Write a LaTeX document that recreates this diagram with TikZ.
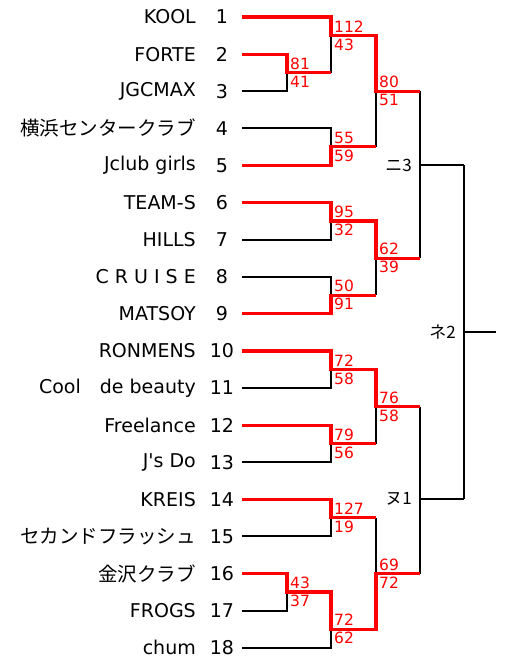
\documentclass[tikz,border=0pt]{standalone}
\usepackage{fontspec}
\setmainfont{DejaVu Sans}
\newfontfamily\jp{Noto Sans CJK JP}
\usetikzlibrary{positioning, calc}

\tikzset{
  win/.style={draw=red, line width=3.2pt},
  lose/.style={draw=black, line width=1.9pt},
  teamname/.style={anchor=east, inner sep=0pt, font=\fontsize{19}{22}\selectfont},
  seed/.style={inner sep=0pt, font=\fontsize{19}{22}\selectfont},
  score/.style={anchor=west, inner sep=0pt, text=red, font=\fontsize{15.5}{18}\selectfont},
  pool/.style={anchor=east, inner sep=0pt, font=\jp\fontsize{17}{18}\selectfont}
}

\begin{document}
\begin{tikzpicture}[x=1pt, y=-1pt]
\useasboundingbox (0,0) rectangle (509,662);

% rows, half a team apart
\foreach \k in {0,...,34}
  \coordinate (r\k) at (0,{17+18.55*\k});

% round columns
\coordinate (xa) at (287,0);
\coordinate (xb) at (331,0);
\coordinate (xc) at (376,0);
\coordinate (xd) at (420,0);
\coordinate (xe) at (464,0);
\coordinate (xf) at (496,0);

% teams
\foreach \name [count=\i] in {KOOL, FORTE, JGCMAX, {\jp\fontsize{19.5}{22}\selectfont 横浜センタークラブ}, Jclub girls,
    TEAM-S, HILLS, C R U I S E, MATSOY, RONMENS, Cool{\jp 　}de beauty, Freelance,
    J\textquotesingle s Do, KREIS, {\jp\fontsize{19.5}{22}\selectfont セカンドフラッシュ},
    {\jp\fontsize{19.5}{22}\selectfont 金沢クラブ}, FROGS, chum} {
  \pgfmathsetmacro\y{17+37.1*(\i-1)}
  \node[teamname] (n\i) at (196,\y) {\name};
  \node[seed] (s\i) at (222,\y) {\i};
  \coordinate (t\i) at (242,\y);
}

% losing lines
\draw[lose] (t3) -| (xa |- r3);
\draw[lose] (t17) -| (xa |- r31);
\foreach \i/\k in {4/7, 7/11, 8/15, 11/19, 13/23, 15/27, 18/33}
  \draw[lose] (t\i) -| (xb |- r\k);
\draw[lose] (xb |- r1) -- (xb |- r3);
\draw[lose] (xc |- r4) -- (xc |- r7);
\draw[lose] (xc |- r13) -- (xc |- r15);
\draw[lose] (xc |- r21) -- (xc |- r23);
\draw[lose] (xc |- r27) -- (xc |- r30);

% rounds still open
\draw[lose] (xd |- r4) -- (xd |- r13) (xd |- r8) -- (xe |- r8);
\draw[lose] (xd |- r21) -- (xd |- r30) (xd |- r26) -- (xe |- r26);
\draw[lose] (xe |- r8) -- (xe |- r26) (xe |- r17) -- (xf |- r17);

% winning lines
\draw[win] (t1) -| (xb |- r1) -| (xc |- r4) -- (xd |- r4);
\draw[win] (t2) -| (xa |- r3) -- (xb |- r3);
\draw[win] (t5) -| (xb |- r7) -- (xc |- r7);
\draw[win] (t6) -| (xb |- r11) -| (xc |- r13) -- (xd |- r13);
\draw[win] (t9) -| (xb |- r15) -- (xc |- r15);
\draw[win] (t10) -| (xb |- r19) -| (xc |- r21) -- (xd |- r21);
\draw[win] (t12) -| (xb |- r23) -- (xc |- r23);
\draw[win] (t14) -| (xb |- r27) -- (xc |- r27);
\draw[win] (t16) -| (xa |- r31) -| (xb |- r33) -| (xc |- r30) -- (xd |- r30);

% scores
\foreach \c/\k/\hi/\lo in {xa/3/81/41, xb/1/112/43, xb/7/55/59, xc/4/80/51,
    xb/11/95/32, xb/15/50/91, xc/13/62/39, xb/19/72/58, xb/23/79/56, xc/21/76/58,
    xb/27/127/19, xa/31/43/37, xb/33/72/62, xc/30/69/72} {
  \node[score] (hi-\c-\k) at ($(\c |- r\k)+(3,-9)$) {\hi};
  \node[score] (lo-\c-\k) at ($(\c |- r\k)+(3,9)$) {\lo};
}

% pool marks
\node[pool] (p3) at ($(xd |- r8)+(-8,0)$) {ニ3};
\node[pool] (p1) at ($(xd |- r26)+(-8,0)$) {ヌ1};
\node[pool] (p2) at ($(xe |- r17)+(-8,0)$) {ネ2};
\end{tikzpicture}
\end{document}
